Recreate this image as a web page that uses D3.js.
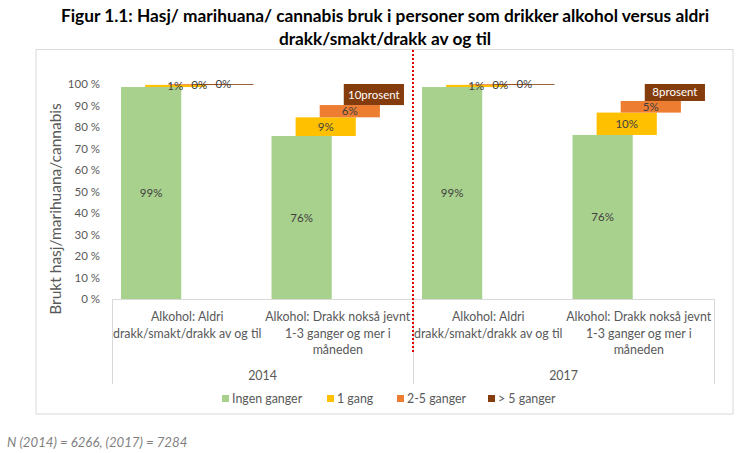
<!DOCTYPE html>
<html><head><meta charset="utf-8">
<script src="https://cdn.jsdelivr.net/npm/d3@7"></script>
<style>
body{margin:0;background:#fff;}
svg{display:block;font-family:Lato, "Open Sans", sans-serif;}
</style></head>
<body><svg id="c" width="755" height="453"></svg>
<script>
const titleLines = ["Figur 1.1: Hasj/ marihuana/ cannabis bruk i personer som drikker alkohol versus aldri", "drakk/smakt/drakk av og til"];
const years = ["2014", "2017"];
const categoryLines = [["Alkohol: Aldri", "drakk/smakt/drakk av og til"], ["Alkohol: Drakk nokså jevnt", "1-3 ganger og mer i", "måneden"]];
const seriesNames = ["Ingen ganger", "1 gang", "2-5 ganger", "> 5 ganger"];
const seriesColors = ["#A9D18E", "#FFC000", "#ED7D31", "#843C0C"];
// groups: 2014-Aldri, 2014-Drakk, 2017-Aldri, 2017-Drakk
const ingenGanger = [98.6, 75.8, 98.6, 76.3];
const enGang = [1.0, 8.7, 1.0, 10.4];
const toFemGanger = [0.3, 5.7, 0.3, 5.4];
const overFemGanger = [0.1, 9.8, 0.1, 7.9];
const ingenLabels = ["99%", "76%", "99%", "76%"];
const enLabels = ["1%", "9%", "1%", "10%"];
const toFemLabels = ["0%", "6%", "0%", "5%"];
const overFemLabels = ["0%", "10prosent", "0%", "8prosent"];
const yTicks = [0,10,20,30,40,50,60,70,80,90,100];
const yTitle = "Brukt hasj/marihuana/cannabis";
const footnote = "N (2014) = 6266, (2017) = 7284";

const series = [ingenGanger, enGang, toFemGanger, overFemGanger];
const seriesLabels = [ingenLabels, enLabels, toFemLabels, overFemLabels];

const svg = d3.select("#c");
const groups = d3.range(ingenGanger.length);
const x = d3.scaleBand().domain(groups).range([112, 714]).padding(0);
const y = d3.scaleLinear().domain([0, 100]).range([299, 84]);
const barW = x.bandwidth() * 0.4;
const step = x.bandwidth() * 0.16;
const groupW = barW + step * 3;

// title
svg.append("g").selectAll("text").data(titleLines).join("text")
  .attr("x", 385).attr("y", (d,i) => 22 + i*23)
  .attr("text-anchor", "middle").attr("font-size", 17.3).attr("font-weight", "bold")
  .attr("fill", "#000").text(d => d);

// chart border
svg.append("rect").attr("x", 36).attr("y", 49.5).attr("width", 697).attr("height", 364.5)
  .attr("fill", "none").attr("stroke", "#d9d9d9");

// y axis ticks labels
const yAxis = d3.axisLeft(y).tickValues(yTicks).tickFormat(d => d + " %").tickSize(0).tickPadding(12);
const ya = svg.append("g").attr("transform", "translate(112,0)").call(yAxis);
ya.select(".domain").remove();
ya.selectAll("text").attr("font-size", 11.5).attr("fill", "#595959").attr("font-family", "Lato, sans-serif");

// x axis line
svg.append("line").attr("x1", 112).attr("x2", 714).attr("y1", y(0)+0.5).attr("y2", y(0)+0.5)
  .attr("stroke", "#d9d9d9");
// separators
const sepX = [112, x(2), 714];
svg.append("g").selectAll("line").data(sepX).join("line")
  .attr("x1", d => Math.round(d)+0.5).attr("x2", d => Math.round(d)+0.5)
  .attr("y1", y(0)).attr("y2", 384).attr("stroke", "#d9d9d9");

// bars
series.forEach((vals, s) => {
  const g = svg.append("g");
  groups.forEach(gi => {
    const base = d3.sum(series.slice(0, s), a => a[gi]);
    const x0 = x(gi) + (x.bandwidth() - groupW) / 2 + s * step;
    const top = base + vals[gi];
    g.append("rect").attr("x", x0).attr("width", barW)
      .attr("y", y(top)).attr("height", Math.max(y(base) - y(top), 0.8))
      .attr("fill", seriesColors[s]);
  });
});
// labels
series.forEach((vals, s) => {
  const g = svg.append("g");
  groups.forEach(gi => {
    const base = d3.sum(series.slice(0, s), a => a[gi]);
    const x0 = x(gi) + (x.bandwidth() - groupW) / 2 + s * step;
    const mid = base + vals[gi] / 2;
    g.append("text").attr("x", x0 + barW/2).attr("y", y(mid) + 4)
      .attr("text-anchor", "middle").attr("font-size", 11.5)
      .attr("fill", (s === 3 && vals[gi] > 2) ? "#fff" : "#404040")
      .text(seriesLabels[s][gi]);
  });
});

// category labels
groups.forEach(gi => {
  const lines = categoryLines[gi % 2];
  svg.append("g").selectAll("text").data(lines).join("text")
    .attr("x", x(gi) + x.bandwidth()/2).attr("y", (d,i) => 321 + i*16.5)
    .attr("text-anchor", "middle").attr("font-size", 12.4).attr("fill", "#595959").text(d => d);
});
// year labels
years.forEach((yr, i) => {
  svg.append("text").attr("x", (x(i*2) + x(i*2+1) + x.bandwidth())/2).attr("y", 380)
    .attr("text-anchor", "middle").attr("font-size", 12.4).attr("fill", "#595959").text(yr);
});

// red dotted divider
svg.append("line").attr("x1", 413).attr("x2", 413).attr("y1", 50).attr("y2", 352)
  .attr("stroke", "#e00000").attr("stroke-width", 2).attr("stroke-dasharray", "2,2");

// y title
svg.append("text").attr("transform", "translate(61,209) rotate(-90)")
  .attr("text-anchor", "middle").attr("font-size", 15.5).attr("fill", "#595959").text(yTitle);

// legend
const legX = [222, 327, 397, 488];
const leg = svg.append("g");
seriesNames.forEach((n, i) => {
  leg.append("rect").attr("x", legX[i]).attr("y", 395).attr("width", 7).attr("height", 7).attr("fill", seriesColors[i]);
  leg.append("text").attr("x", legX[i] + 10).attr("y", 403).attr("font-size", 12.4).attr("fill", "#595959").text(n);
});

// footnote
svg.append("text").attr("x", 7).attr("y", 447).attr("font-size", 13.2).attr("font-style", "italic")
  .attr("fill", "#7f7f7f").text(footnote);
</script></body></html>
